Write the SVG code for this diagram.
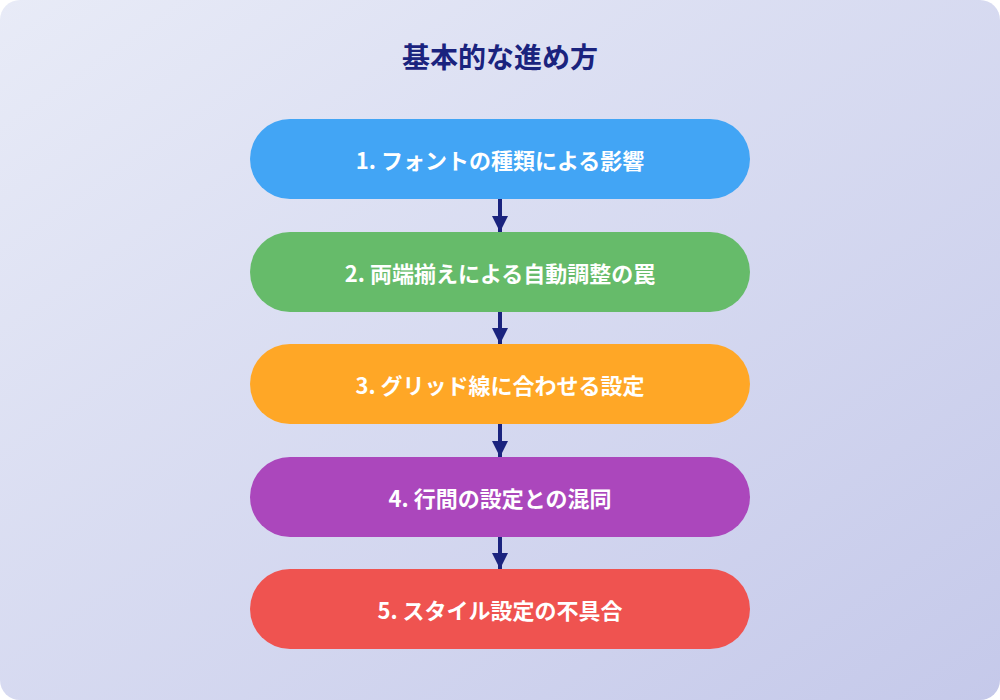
<svg xmlns="http://www.w3.org/2000/svg" width="1000" height="700" viewBox="0 0 1000 700">
<defs>
<linearGradient id="bg" x1="0" y1="0" x2="1" y2="1"><stop offset="0" stop-color="#e8ebf7"/><stop offset="1" stop-color="#c5c9ea"/></linearGradient>
<marker id="ah" viewBox="0 0 10 10" refX="10" refY="5" markerWidth="5" markerHeight="4" markerUnits="strokeWidth" orient="auto"><path d="M0,0L10,5L0,10z" fill="#1a237e"/></marker>
<style>
.t{font-family:"Noto Sans CJK JP","Noto Sans",sans-serif;font-weight:bold;fill:#fff;font-size:22px;text-anchor:middle;dominant-baseline:central}
.c{stroke:#1a237e;stroke-width:4;fill:none;marker-end:url(#ah)}
</style>
</defs>
<rect width="1000" height="700" rx="20" fill="url(#bg)"/>
<text x="500" y="56" font-family="Noto Sans CJK JP,sans-serif" font-weight="bold" font-size="28" fill="#1a237e" text-anchor="middle" dominant-baseline="central">基本的な進め方</text>
<g id="connectors">
<line class="c" x1="500" y1="199" x2="500" y2="232"/>
<line class="c" x1="500" y1="312" x2="500" y2="344"/>
<line class="c" x1="500" y1="424" x2="500" y2="457"/>
<line class="c" x1="500" y1="537" x2="500" y2="569"/>
</g>
<g id="n1"><rect x="250" y="119" width="500" height="80" rx="40" fill="#42a5f5"/><text class="t" x="500" y="159">1. フォントの種類による影響</text></g>
<g id="n2"><rect x="250" y="232" width="500" height="80" rx="40" fill="#66bb6a"/><text class="t" x="500" y="272">2. 両端揃えによる自動調整の罠</text></g>
<g id="n3"><rect x="250" y="344" width="500" height="80" rx="40" fill="#ffa726"/><text class="t" x="500" y="384">3. グリッド線に合わせる設定</text></g>
<g id="n4"><rect x="250" y="457" width="500" height="80" rx="40" fill="#ab47bc"/><text class="t" x="500" y="497">4. 行間の設定との混同</text></g>
<g id="n5"><rect x="250" y="569" width="500" height="80" rx="40" fill="#ef5350"/><text class="t" x="500" y="609">5. スタイル設定の不具合</text></g>
</svg>
